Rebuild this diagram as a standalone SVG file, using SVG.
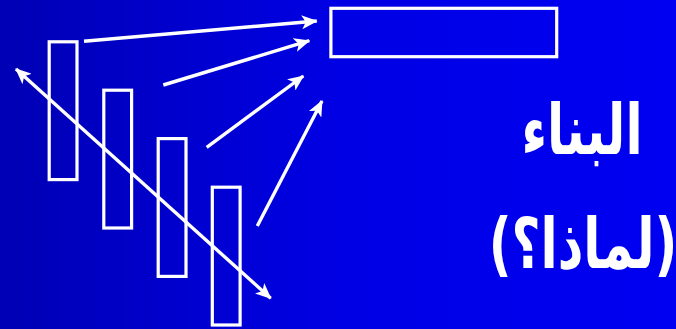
<svg xmlns="http://www.w3.org/2000/svg" width="676" height="329" viewBox="0 0 676 329">
<defs>
<linearGradient id="bg" x1="0" y1="0" x2="1" y2="0">
<stop offset="0" stop-color="#0000b4"/>
<stop offset="0.5" stop-color="#0000e4"/>
<stop offset="1" stop-color="#0000f2"/>
</linearGradient>
<marker id="ah" markerUnits="userSpaceOnUse" markerWidth="16" markerHeight="14" viewBox="0 0 16 14" refX="15" refY="7" orient="auto-start-reverse">
<path d="M0,0 L16,7 L0,14 L4,7 Z" fill="#fff"/>
</marker>
<style>
.box{fill:none;stroke:#fff;stroke-width:3.2}
.con{fill:none;stroke:#fff;stroke-width:3.4}
.t{fill:#fff;font-family:"DejaVu Sans","Noto Sans",sans-serif;font-weight:bold;font-size:50px;text-anchor:middle}
</style>
</defs>
<rect width="676" height="329" fill="url(#bg)"/>
<g id="bar1"><rect class="box" x="49.2" y="41.8" width="27.8" height="137.8"/></g>
<g id="bar2"><rect class="box" x="103.8" y="90.2" width="27.8" height="137.8"/></g>
<g id="bar3"><rect class="box" x="158.2" y="138.6" width="27.8" height="137.8"/></g>
<g id="bar4"><rect class="box" x="212.3" y="187.2" width="27.8" height="137.8"/></g>
<g id="top"><rect class="box" x="330.9" y="8.3" width="225.8" height="48.4"/></g>
<g id="connectors">
<line class="con" x1="84" y1="41.3" x2="316.7" y2="21" marker-end="url(#ah)"/>
<line class="con" x1="163.3" y1="85" x2="309.3" y2="40.7" marker-end="url(#ah)"/>
<line class="con" x1="206.7" y1="147.3" x2="303.3" y2="76" marker-end="url(#ah)"/>
<line class="con" x1="257.3" y1="226" x2="322" y2="101" marker-end="url(#ah)"/>
<line class="con" x1="16" y1="69" x2="270.7" y2="298.3" marker-start="url(#ah)" marker-end="url(#ah)"/>
</g>
<g id="title">
<text class="t" transform="translate(582,154) scale(1,1.4)">البناء</text>
<text class="t" transform="translate(583,268) scale(1,1.4)">(لماذا؟)</text>
</g>
</svg>
